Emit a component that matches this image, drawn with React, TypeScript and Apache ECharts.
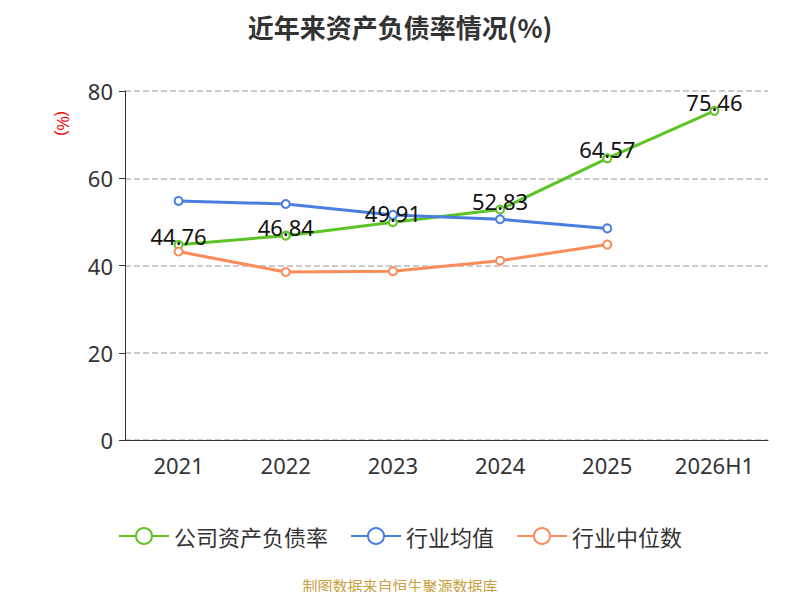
import React, { useEffect, useRef } from "react";
import * as echarts from "echarts";

const categories = ["2021", "2022", "2023", "2024", "2025", "2026H1"];
const company = [44.76, 46.84, 49.91, 52.83, 64.57, 75.46];
const industryAvg = [54.8, 54.1, 51.6, 50.6, 48.5, null];
const industryMedian = [43.2, 38.5, 38.7, 41.1, 44.8, null];

export default function App() {
  const ref = useRef<HTMLDivElement>(null);
  useEffect(() => {
    const chart = echarts.init(ref.current!, null, { renderer: "svg" });
    const font = "'Noto Sans', sans-serif";
    chart.setOption({
      animation: false,
      textStyle: { fontFamily: font },
      title: {
        text: "近年来资产负债率情况(%)",
        left: "center",
        top: 0,
        textStyle: { fontSize: 26, fontWeight: "bold", color: "#333", fontFamily: "'Noto Sans CJK SC', sans-serif" },
      },
      graphic: [
        {
          type: "text",
          left: "center",
          top: 570,
          style: { text: "制图数据来自恒生聚源数据库", fill: "#c8a040", fontSize: 15, fontFamily: "'Noto Sans CJK SC', sans-serif" },
        },
        {
          type: "text",
          x: 62,
          y: 103,
          rotation: -Math.PI / 2,
          style: { text: "(%)", fill: "#e00", fontSize: 16 },
        },
      ],
      legend: {
        bottom: 40,
        itemWidth: 50,
        itemHeight: 20,
        itemGap: 22,
        textStyle: { fontSize: 22, color: "#333", fontFamily: "'Noto Sans CJK SC', sans-serif" },
        data: ["公司资产负债率", "行业均值", "行业中位数"],
      },
      grid: { left: 117, right: 24, top: 83, bottom: 152 },
      xAxis: {
        type: "category",
        data: categories,
        axisLine: { lineStyle: { color: "#333" } },
        axisTick: { lineStyle: { color: "#333" }, length: 6 },
        axisLabel: { fontSize: 22, color: "#333", margin: 14 },
      },
      yAxis: {
        type: "value",
        min: 0,
        max: 80,
        interval: 20,
        axisLine: { show: true, lineStyle: { color: "#333" } },
        axisTick: { show: true, lineStyle: { color: "#333" }, length: 6 },
        axisLabel: { fontSize: 22, color: "#333", margin: 12 },
        splitLine: { lineStyle: { type: "dashed", color: "#bbb", width: 1.5 } },
      },
      series: [
        {
          name: "公司资产负债率",
          type: "line",
          data: company,
          symbol: "emptyCircle",
          symbolSize: 8,
          itemStyle: { color: "#5cc424" },
          lineStyle: { width: 3, color: "#5cc424" },
          label: { show: true, position: "top", fontSize: 22, color: "#111", offset: [0, 12] },
          z: 3,
        },
        {
          name: "行业均值",
          type: "line",
          data: industryAvg,
          symbol: "emptyCircle",
          symbolSize: 8,
          itemStyle: { color: "#4a7ee0" },
          lineStyle: { width: 3, color: "#4a7ee0" },
        },
        {
          name: "行业中位数",
          type: "line",
          data: industryMedian,
          symbol: "emptyCircle",
          symbolSize: 8,
          itemStyle: { color: "#fa8c5a" },
          lineStyle: { width: 3, color: "#fa8c5a" },
        },
      ],
    });
    return () => chart.dispose();
  }, []);
  return <div ref={ref} style={{ width: 784, height: 584 }} />;
}
